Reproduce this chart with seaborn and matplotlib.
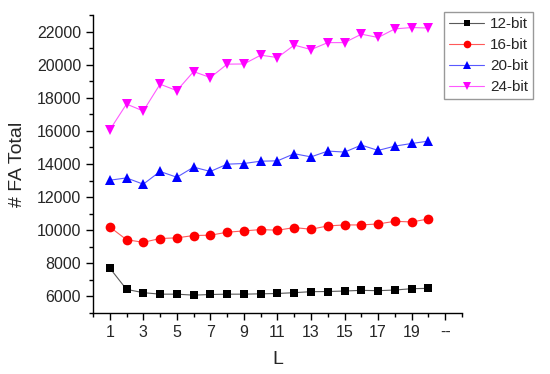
import matplotlib
matplotlib.use("Agg")
import matplotlib.pyplot as plt
from matplotlib.colors import to_rgb
from matplotlib.ticker import MultipleLocator
import numpy as np
import pandas as pd
import seaborn as sns

L = list(range(1, 21))
fa_12bit = [7720, 6430, 6230, 6140, 6140, 6080, 6120, 6140, 6140, 6160,
            6180, 6230, 6290, 6300, 6330, 6370, 6350, 6390, 6470, 6490]
fa_16bit = [10200, 9430, 9270, 9500, 9540, 9680, 9700, 9880, 9960, 10040,
            10000, 10160, 10060, 10260, 10320, 10320, 10380, 10540, 10500, 10680]
fa_20bit = [13020, 13160, 12780, 13550, 13200, 13810, 13550, 13990, 14030, 14170,
            14190, 14620, 14430, 14780, 14720, 15140, 14820, 15080, 15240, 15380]
fa_24bit = [16050, 17620, 17200, 18820, 18430, 19580, 19220, 20030, 20040, 20570,
            20430, 21180, 20910, 21330, 21330, 21840, 21640, 22160, 22240, 22210]
series_names = ["12-bit", "16-bit", "20-bit", "24-bit"]
xtick_values = list(range(1, 22, 2))
xtick_labels = [str(v) for v in range(1, 20, 2)] + ["--"]

df = pd.DataFrame({
    "L": L * 4,
    "FA": fa_12bit + fa_16bit + fa_20bit + fa_24bit,
    "series": np.repeat(series_names, len(L)),
})

sns.set_style("ticks")
plt.rcParams["font.family"] = ["Liberation Sans", "DejaVu Sans"]

colors = {"12-bit": "#000000", "16-bit": "#ff0000", "20-bit": "#0000ff", "24-bit": "#ff00ff"}
markers = {"12-bit": "s", "16-bit": "o", "20-bit": "^", "24-bit": "v"}


def lighten(c, amount=0.35):
    r, g, b = to_rgb(c)
    return (r + (1 - r) * amount, g + (1 - g) * amount, b + (1 - b) * amount)


fig = plt.figure(figsize=(5.5, 3.74), dpi=100)
ax = fig.add_axes([0.169, 0.163, 0.671, 0.797])

sns.lineplot(data=df, x="L", y="FA", hue="series", style="series", palette=colors,
             markers=markers, dashes=False, linewidth=0.8, markersize=7,
             markeredgewidth=0, ax=ax, legend=False)

# lines a bit lighter than the markers, squares a bit smaller
for line, name in zip(ax.lines, series_names):
    base = colors[name]
    line.set_color(lighten(base))
    line.set_markerfacecolor(base)
    line.set_markeredgecolor(base)
    if markers[name] == "s":
        line.set_markersize(6)

ax.set_xlim(0, 22)
ax.set_ylim(5000, 23000)
ax.set_xticks(xtick_values)
ax.set_xticklabels(xtick_labels)
ax.xaxis.set_minor_locator(MultipleLocator(1))
ax.set_yticks(range(6000, 22001, 2000))
ax.yaxis.set_minor_locator(MultipleLocator(1000))
ax.tick_params(which="major", length=5, width=1, labelsize=11.5, direction="out", color="black")
ax.tick_params(which="minor", length=3, width=1, direction="out", color="black")
for s in ["left", "bottom"]:
    ax.spines[s].set_color("black")
    ax.spines[s].set_linewidth(1)
sns.despine(ax=ax)

ax.set_xlabel("L", fontsize=14, labelpad=8)
ax.set_ylabel("# FA Total", fontsize=14, labelpad=8)

handles = []
for name in series_names:
    h, = ax.plot([], [], color=lighten(colors[name]), lw=0.8, marker=markers[name],
                 markersize=4.5 if markers[name] == "s" else 5.5,
                 markerfacecolor=colors[name], markeredgewidth=0)
    handles.append(h)
leg = ax.legend(handles, series_names, loc="upper left", bbox_to_anchor=(444 / 550, 1 - 12 / 374),
                bbox_transform=fig.transFigure, borderaxespad=0, fontsize=11, frameon=True,
                fancybox=False, edgecolor="#808080", handlelength=2.3, borderpad=0.35,
                labelspacing=0.45, handletextpad=0.35)
leg.get_frame().set_linewidth(1)

fig.savefig("out.png", dpi=100)
